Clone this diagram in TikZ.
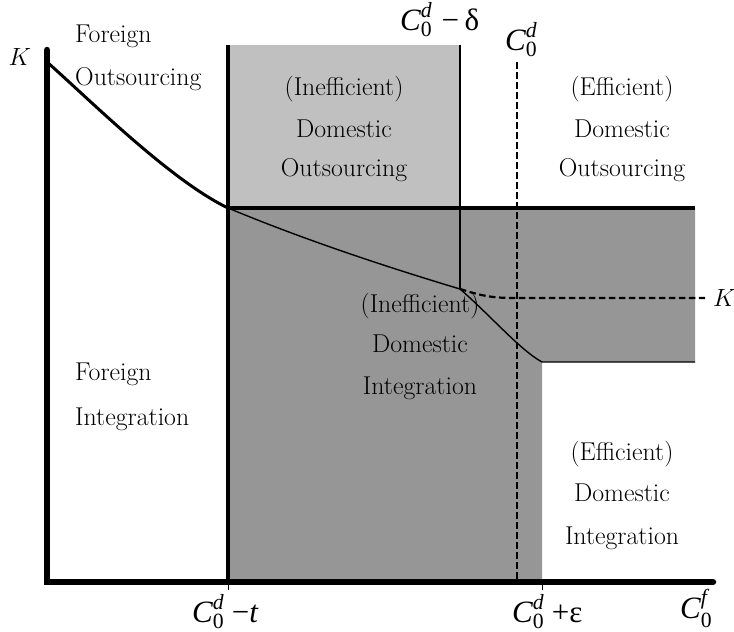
\documentclass[tikz,border=0pt]{standalone}
\usepackage{amsmath}
\usepackage{fontspec}
\newfontfamily\tms{Liberation Serif}
\newcommand\Cv[1]{$\text{\tms\itshape C}^{\text{\tms\itshape #1}}_{\text{\tms 0}}$}
\definecolor{lightg}{HTML}{C0C0C0}
\definecolor{darkg}{HTML}{969696}
\begin{document}
\begin{tikzpicture}[x=1pt,y=-1pt,
  txt/.style={font=\fontsize{25.8}{30}\selectfont, inner sep=0pt},
  lab/.style={font=\fontsize{31}{36}\selectfont\tms, inner sep=0pt},
  dashline/.style={line width=2.2pt, dash pattern=on 6.5pt off 3.5pt},
  thinline/.style={line width=1.5pt},
  thickline/.style={line width=3.2pt}]
\useasboundingbox (0,0) rectangle (734,632);
% key points
\coordinate (O) at (47,582);
\coordinate (Ytop) at (47,50);
\coordinate (Xend) at (713,582);
\coordinate (S) at (47,62);
\coordinate (A) at (228,208);
\coordinate (Atop) at (228,45);
\coordinate (Abot) at (228,582);
\coordinate (Atick) at (228,590);
\coordinate (B) at (460,289);
\coordinate (Btop) at (460,45);
\coordinate (Bmid) at (460,208);
\coordinate (Rtop) at (695,208);
\coordinate (Rmid) at (695,362);
\coordinate (E) at (542,362);
\coordinate (Ebot) at (542,582);
\coordinate (Etick) at (542,590);
\coordinate (D) at (517,298);
\coordinate (Kp) at (705,298);
\coordinate (Dtop) at (517,62);
\coordinate (Dbot) at (517,582);
% regions
\fill[lightg] (Atop) rectangle (Bmid);
\fill[darkg] (A) -- (Rtop) -- (Rmid) -- (E) -- (Ebot) -- (Abot) -- cycle;
% lines
\draw[thinline] (Btop) -- (B);
\draw[line width=1.4pt] (A) .. controls (300,238) and (380,265) .. (B)
   .. controls (490,315) and (520,350) .. (E) -- (Rmid);
\draw[dashline] (B) .. controls (485,297) and (495,298) .. (D) -- (Kp);
\draw[dashline] (Dtop) -- (Dbot);
\draw[line width=3pt] (S) .. controls (90,100) and (170,180) .. (A);
\draw[thickline] (A) -- (Rtop);
\draw[line width=3.5pt] (Atop) -- (Abot);
\draw[line width=0.8pt] (Abot) -- (Atick);
\draw[line width=0.8pt] (Ebot) -- (Etick);
\draw[line width=6.5pt, line cap=round, line join=miter] (Ytop) -- (O) -- (Xend);
% texts
\node[txt, anchor=base west] (fo1) at (75,42) {Foreign};
\node[txt, anchor=base west] (fo2) at (75,85) {Outsourcing};
\node[txt, anchor=base] (io1) at (344,95) {(Inefficient)};
\node[txt, anchor=base] (io2) at (344,137) {Domestic};
\node[txt, anchor=base] (io3) at (344,176) {Outsourcing};
\node[txt, anchor=base] (eo1) at (622,95) {(Efficient)};
\node[txt, anchor=base] (eo2) at (622,137) {Domestic};
\node[txt, anchor=base] (eo3) at (622,176) {Outsourcing};
\node[txt, anchor=base west] (fi1) at (75,380) {Foreign};
\node[txt, anchor=base west] (fi2) at (75,425) {Integration};
\node[txt, anchor=base] (ii1) at (420,312) {(Inefficient)};
\node[txt, anchor=base] (ii2) at (420,352) {Domestic};
\node[txt, anchor=base] (ii3) at (420,394) {Integration};
\node[txt, anchor=base] (ei1) at (622,460) {(Efficient)};
\node[txt, anchor=base] (ei2) at (622,501) {Domestic};
\node[txt, anchor=base] (ei3) at (622,544) {Integration};
\node[txt] (K) at (20,57) {$K$};
\node[txt, anchor=base west] (Kprime) at (713,306) {$K'$};
\node[lab, anchor=base west] (cdelta) at (400,30) {\Cv{d}\hspace{0.3em}−\hspace{0.18em}δ};
\node[lab, anchor=base west] (czero) at (505,50) {\Cv{d}};
\node[lab, anchor=base west] (ct) at (192,622) {\Cv{d} −\textit{t}};
\node[lab, anchor=base west] (ceps) at (512,622) {\Cv{d} +ε};
\node[lab, anchor=base west] (cf) at (680,618) {\Cv{f}};
\end{tikzpicture}
\end{document}
